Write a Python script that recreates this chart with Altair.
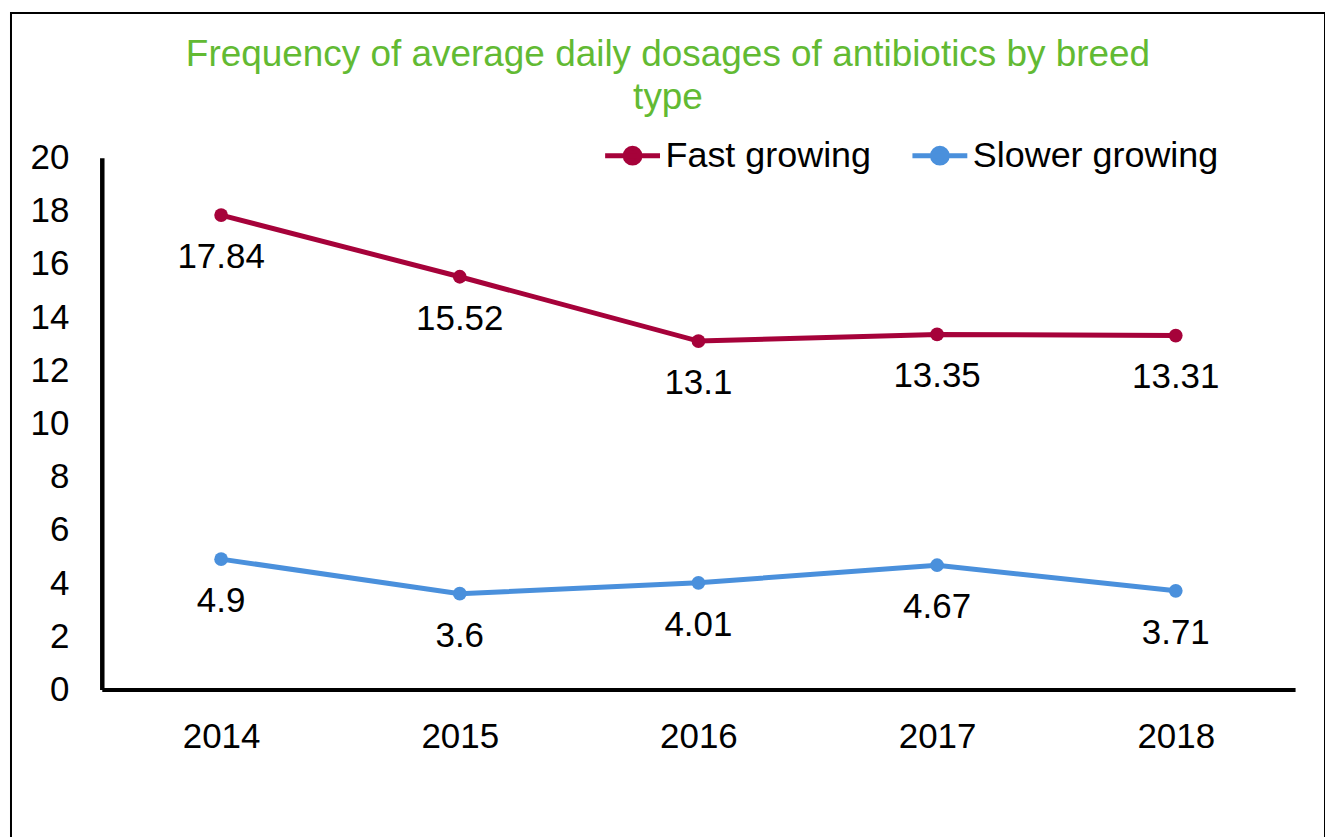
import altair as alt
import pandas as pd

years = ["2014", "2015", "2016", "2017", "2018"]
fast_growing = [17.84, 15.52, 13.1, 13.35, 13.31]
slower_growing = [4.9, 3.6, 4.01, 4.67, 3.71]
series_names = ["Fast growing", "Slower growing"]
series_colors = ["#A6023A", "#4A90DC"]
y_ticks = [0, 2, 4, 6, 8, 10, 12, 14, 16, 18, 20]
title_lines = ["Frequency of average daily dosages of antibiotics by breed", "type"]

rows = []
for name, vals in zip(series_names, [fast_growing, slower_growing]):
    for yr, v in zip(years, vals):
        rows.append({"year": yr, "value": v, "series": name, "label": f"{v:g}"})
df = pd.DataFrame(rows)

FONT = "Liberation Sans"
W, H = 1317, 848

x_enc = alt.X(
    "year:O",
    scale=alt.Scale(type="point", range=[91, 1287], padding=0.5),
    axis=alt.Axis(
        title=None, labelAngle=0, ticks=False, domainColor="black", domainWidth=4,
        labelFontSize=35, labelFont=FONT, labelColor="black", labelPadding=30,
        offset=-170, grid=False,
    ),
)
y_enc = alt.Y(
    "value:Q",
    scale=alt.Scale(domain=[0, 20], range=[678, 145], nice=False, zero=True),
    axis=alt.Axis(
        title=None, values=y_ticks, ticks=False, domainColor="black", domainWidth=4.5,
        labelFontSize=35, labelFont=FONT, labelColor="black", labelPadding=33,
        offset=-91, grid=False,
    ),
)
color_enc = alt.Color(
    "series:N",
    scale=alt.Scale(domain=series_names, range=series_colors),
    legend=alt.Legend(
        title=None, orient="none", legendX=593, legendY=113, direction="horizontal",
        symbolType="M-1,0L1,0M-0.27,0A0.27,0.27,0,1,1,0.27,0A0.27,0.27,0,1,1,-0.27,0Z",
        symbolSize=3025, symbolStrokeWidth=5, labelFont=FONT,
        labelFontSize=36, labelColor="black", labelOffset=3, columnPadding=30,
        labelLimit=400,
    ),
)

base = alt.Chart(df)
lines = base.mark_line(strokeWidth=5).encode(x=x_enc, y=y_enc, color=color_enc)
points = base.mark_point(filled=True, size=190, opacity=1).encode(x=x_enc, y=y_enc, color=color_enc)
labels = base.mark_text(dy=42, fontSize=35, font=FONT, color="black").encode(
    x=x_enc, y=y_enc, text="label:N"
)

chart = (
    alt.layer(lines, points, labels)
    .properties(
        width=W, height=H,
        autosize=alt.AutoSizeParams(type="none"),
        padding={"left": 3, "top": 4, "right": 0, "bottom": 0},
        title=alt.TitleParams(
            text=title_lines, fontSize=37, font=FONT, fontWeight="normal",
            color="#62BA33", anchor="middle", lineHeight=43, baseline="top",
            offset=0, dy=104,
        ),
    )
    .configure(background="white")
    .configure_view(stroke="#000000", strokeWidth=2, strokeOpacity=1)
)

chart.save("out.html", embed_options={"renderer": "svg", "actions": False})
